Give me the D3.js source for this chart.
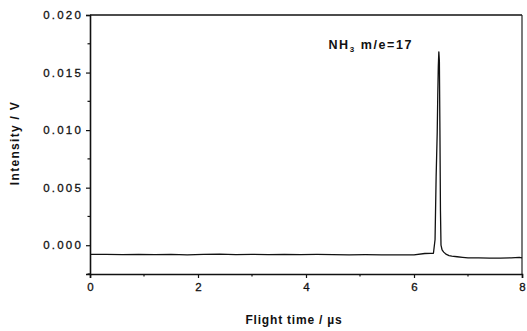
<!DOCTYPE html>
<html>
<head>
<meta charset="utf-8">
<script src="https://cdn.jsdelivr.net/npm/d3@7"></script>
<style>
  html, body { margin: 0; padding: 0; background: #fff; }
  svg { display: block; }
  text { font-family: "Liberation Sans", Arial, sans-serif; fill: #111; }
</style>
</head>
<body>
<svg id="chart" width="527" height="331"></svg>
<script>
// ---- data ----
const flightTime = [0, 0.3, 0.6, 0.9, 1.2, 1.5, 1.8, 2.1, 2.4, 2.7, 3.0, 3.3, 3.6, 3.9, 4.2, 4.5, 4.8, 5.1, 5.4, 5.7, 6.0, 6.2, 6.3, 6.36, 6.39, 6.41, 6.43, 6.44, 6.45, 6.46, 6.47, 6.48, 6.49, 6.5, 6.52, 6.55, 6.6, 6.65, 6.7, 6.8, 6.9, 7.0, 7.2, 7.4, 7.6, 7.8, 7.95, 8.0];
const intensity  = [-0.0008, -0.0008, -0.00082, -0.00079, -0.00081, -0.0008, -0.00083, -0.0008, -0.00078, -0.00082, -0.0008, -0.00081, -0.00079, -0.00082, -0.0008, -0.00081, -0.00083, -0.00082, -0.00083, -0.00084, -0.00084, -0.00072, -0.0007, -0.0007, 0.0005, 0.0060, 0.0098, 0.0130, 0.0155, 0.0168, 0.0160, 0.0100, 0.0030, 0.0000, -0.0004, -0.0006, -0.0008, -0.0009, -0.00095, -0.0010, -0.00105, -0.0011, -0.0011, -0.00112, -0.00112, -0.0011, -0.00105, -0.0011];
const xTicks = [0, 2, 4, 6, 8];
const xMinorTicks = [1, 3, 5, 7];
const yTicks = [0.000, 0.005, 0.010, 0.015, 0.020];
const yMinorTicks = [-0.0025, 0.0025, 0.0075, 0.0125, 0.0175];
const annotation = { x: 6.47, y: 0.0168 };

// ---- layout ----
const svg = d3.select("#chart");
const mLeft = 90, mRight = 522, mTop = 15, mBottom = 274;

const x = d3.scaleLinear().domain([0, 8]).range([mLeft, mRight]);
const y = d3.scaleLinear().domain([-0.0025, 0.020]).range([mBottom, mTop]);

// frame (top, right)
svg.append("line").attr("x1", mLeft).attr("x2", mRight).attr("y1", mTop).attr("y2", mTop)
  .attr("stroke", "#111").attr("stroke-width", 1.6);
svg.append("line").attr("x1", mRight).attr("x2", mRight).attr("y1", mTop).attr("y2", mBottom)
  .attr("stroke", "#222").attr("stroke-width", 1.2);

// x axis
const xAxis = svg.append("g").attr("transform", `translate(0,${mBottom})`)
  .call(d3.axisBottom(x).tickValues(xTicks).tickSize(4).tickPadding(5).tickFormat(d3.format("d")));
xAxis.append("g").selectAll("line").data(xMinorTicks).join("line")
  .attr("x1", d => x(d)).attr("x2", d => x(d)).attr("y1", 0).attr("y2", 2.5)
  .attr("stroke", "#111").attr("stroke-width", 1.2);

// y axis
const yAxis = svg.append("g").attr("transform", `translate(${mLeft},0)`)
  .call(d3.axisLeft(y).tickValues(yTicks).tickSize(4).tickPadding(3).tickFormat(d3.format(".3f")));
yAxis.append("g").selectAll("line").data(yMinorTicks).join("line")
  .attr("x1", 0).attr("x2", -2.5).attr("y1", d => y(d)).attr("y2", d => y(d))
  .attr("stroke", "#111").attr("stroke-width", 1.2);

[xAxis, yAxis].forEach(g => {
  g.select(".domain").attr("stroke", "#111").attr("stroke-width", 1.6);
  g.selectAll(".tick line").attr("stroke", "#111").attr("stroke-width", 1.2);
  g.selectAll(".tick text").attr("font-size", 11.5).attr("fill", "#111")
    .attr("stroke", "#111").attr("stroke-width", 0.3)
    .attr("font-family", "Liberation Sans, Arial, sans-serif");
});
yAxis.selectAll(".tick text").style("letter-spacing", "2.2px");

// data line
const pts = flightTime.map((t, i) => [t, intensity[i]]);
svg.append("path").datum(pts)
  .attr("fill", "none").attr("stroke", "#111").attr("stroke-width", 1.3)
  .attr("stroke-linejoin", "round")
  .attr("d", d3.line().x(d => x(d[0])).y(d => y(d[1])));

// annotation
const ann = svg.append("text")
  .attr("x", x(annotation.x) - 111).attr("y", y(annotation.y) - 3)
  .attr("font-size", 12.5).attr("font-weight", "bold").style("letter-spacing", "1.6px");
ann.append("tspan").text("NH");
ann.append("tspan").attr("dy", 3).attr("font-size", 8).text("3");
ann.append("tspan").attr("dy", -3).text(" m/e=17");

// axis labels
svg.append("text").attr("x", 294).attr("y", 324)
  .attr("text-anchor", "middle").attr("font-size", 12).attr("font-weight", "bold")
  .style("letter-spacing", "0.8px")
  .text("Flight time / \u00b5s");
svg.append("text").attr("transform", `translate(19,143) rotate(-90)`)
  .attr("text-anchor", "middle").attr("font-size", 12).attr("font-weight", "bold")
  .style("letter-spacing", "1.3px")
  .text("Intensity / V");
</script>
</body>
</html>
